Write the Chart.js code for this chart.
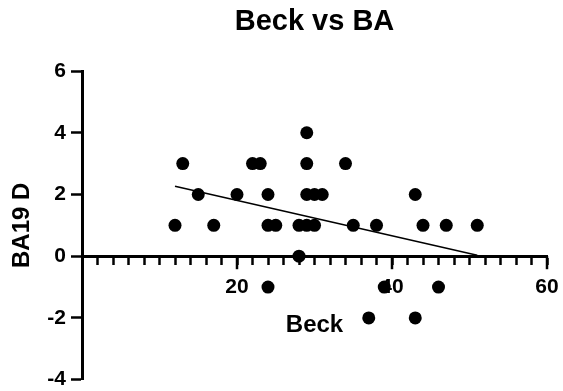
<!DOCTYPE html>
<html>
<head>
<meta charset="utf-8">
<script src="https://cdn.jsdelivr.net/npm/chart.js@4"></script>
<style>
  html, body { margin: 0; padding: 0; background: #fff; }
  #wrap { width: 563px; height: 391px; }
</style>
</head>
<body>
<div id="wrap"><canvas id="chart"></canvas></div>
<script>
// Beck score vs BA19 D, one dot per subject
const beck = [12, 13, 15, 17, 20, 22, 23, 24, 24, 24, 25, 28, 28, 29, 29, 29, 29, 30, 30, 31, 34, 35, 37, 38, 39, 43, 43, 44, 46, 47, 51];
const ba19 = [1, 3, 2, 1, 2, 3, 3, 2, 1, -1, 1, 1, 0, 4, 3, 2, 1, 2, 1, 2, 3, 1, -2, 1, -1, 2, -2, 1, -1, 1, 1];

// fitted line, end points
const fitX = [12, 51];
const fitY = [2.27, 0.03];

// labelled ticks on the x axis (minor ticks every 2)
const xMajor = [20, 40, 60];

const FONT = "'Liberation Sans', Arial, sans-serif";

// longer tick marks for the labelled x values
const majorTicks = {
  id: 'majorTicks',
  afterDraw(chart) {
    const { ctx, scales: { x, y } } = chart;
    const y0 = y.getPixelForValue(0);
    ctx.save();
    ctx.strokeStyle = '#000';
    ctx.lineWidth = 2.5;
    xMajor.forEach(v => {
      const px = x.getPixelForValue(v);
      ctx.beginPath();
      ctx.moveTo(px, y0);
      ctx.lineTo(px, y0 + 13);
      ctx.stroke();
    });
    ctx.restore();
  }
};

new Chart(document.getElementById('chart'), {
  type: 'scatter',
  data: {
    datasets: [
      {
        label: 'BA19 D',
        data: beck.map((b, i) => ({ x: b, y: ba19[i] })),
        backgroundColor: '#000',
        borderWidth: 0,
        pointRadius: 6.5,
        pointHoverRadius: 6.5
      },
      {
        label: 'fit',
        type: 'line',
        data: fitX.map((b, i) => ({ x: b, y: fitY[i] })),
        borderColor: '#000',
        borderWidth: 1.5,
        pointRadius: 0,
        fill: false
      }
    ]
  },
  options: {
    responsive: true,
    maintainAspectRatio: false,
    animation: false,
    layout: { padding: { left: 0, right: 16, top: 0, bottom: 11 } },
    plugins: {
      legend: { display: false },
      tooltip: { enabled: false },
      title: {
        display: true,
        text: 'Beck vs BA',
        fullSize: false,
        color: '#000',
        font: { family: FONT, size: 29, weight: 'bold', lineHeight: 1.2 },
        padding: { top: 5, bottom: 31.2 }
      }
    },
    scales: {
      x: {
        type: 'linear',
        position: { y: 0 },
        min: 0,
        max: 60,
        grid: { drawOnChartArea: false, tickLength: 7, tickWidth: 2.5, tickColor: '#000' },
        border: { color: '#000', width: 3 },
        ticks: {
          stepSize: 2,
          autoSkip: false,
          maxRotation: 0,
          padding: 3,
          color: '#000',
          font: { family: FONT, size: 21, weight: 'bold', lineHeight: 2 },
          callback: (val) => (val !== 0 && val % 20 === 0) ? val : ''
        },
        title: {
          display: true,
          text: 'Beck',
          color: '#000',
          font: { family: FONT, size: 24, weight: 'bold', lineHeight: 1.2 },
          padding: { top: 0, bottom: 0 }
        }
      },
      y: {
        min: -4,
        max: 6,
        afterFit: (scale) => { scale.width = 82; },
        grid: { drawOnChartArea: false, tickLength: 11, tickWidth: 2.5, tickColor: '#000' },
        border: { color: '#000', width: 3 },
        ticks: {
          stepSize: 2,
          padding: 5,
          color: '#000',
          font: { family: FONT, size: 21, weight: 'bold', lineHeight: 0.6 }
        },
        title: {
          display: true,
          text: 'BA19 D',
          color: '#000',
          font: { family: FONT, size: 24, weight: 'bold', lineHeight: 1.2 },
          padding: { top: 8, bottom: 0 }
        }
      }
    }
  },
  plugins: [majorTicks]
});
</script>
</body>
</html>
